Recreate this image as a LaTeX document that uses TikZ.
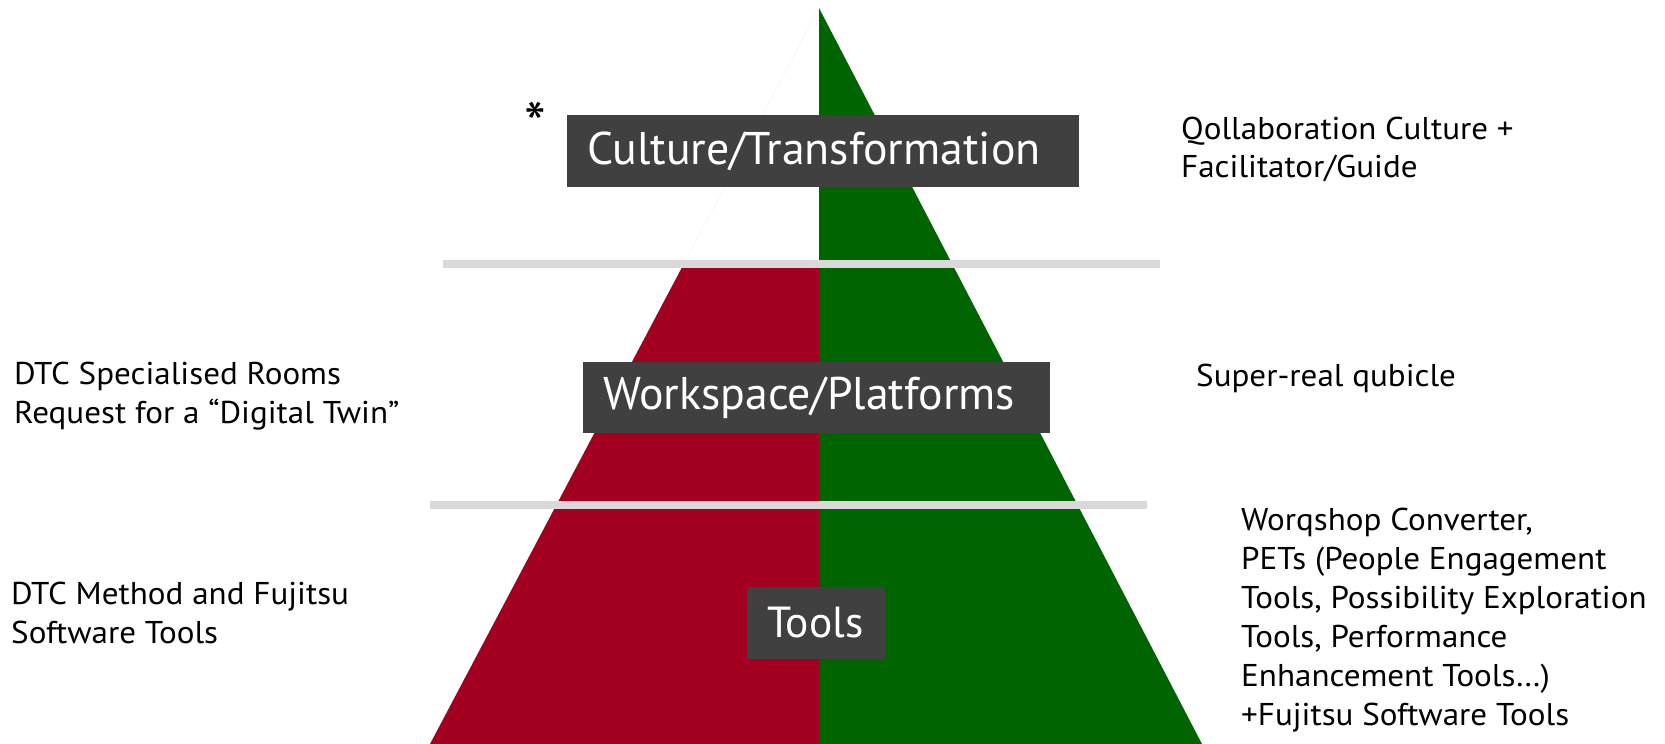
\documentclass[tikz,border=0pt]{standalone}
\usepackage{fontspec}
\setmainfont{PT Sans}
\newfontfamily\sidefont[FakeStretch=1.05]{PT Sans}
\definecolor{pyrred}{HTML}{A30021}
\definecolor{pyrgreen}{HTML}{006400}
\definecolor{boxgray}{HTML}{404040}
\definecolor{linegray}{HTML}{D9D9D9}
\begin{document}
\begin{tikzpicture}[x=1pt,y=-1pt,
  boxlbl/.style={fill=boxgray, text=white, font=\fontsize{45.8}{55}\selectfont, inner xsep=20pt, inner ysep=0pt, align=left, minimum height=72pt, anchor=west},
  side/.style={anchor=base west, inner sep=0pt, font=\sidefont\fontsize{31.5}{38}\selectfont, text=black},
  sepline/.style={fill=linegray, draw=none}]
\fill[white] (0,0) rectangle (1665,744);
\useasboundingbox (0,0) rectangle (1665,744);
% pyramid
\coordinate (apex) at (819,8);
\coordinate (bl) at (430,744);
\coordinate (br) at (1202,744);
\coordinate (bc) at (819,744);
\coordinate (redtop) at (819,264);
\coordinate (redleft) at (683.7,264);
\draw[black!5, line width=0.4pt] (apex) -- (redleft);
\fill[pyrgreen] (apex) -- (br) -- (bc) -- cycle;
\fill[pyrred] (redtop) -- (redleft) -- (bl) -- (bc) -- cycle;
% separator lines
\fill[sepline] (443,260) rectangle (1160,268);
\fill[sepline] (430,501) rectangle (1147,509);
% labels in boxes
\node[boxlbl, text width=472pt] (culture) at (567,151) {\raisebox{-3pt}{Culture/Transformation}};
\node[boxlbl, text width=427pt, minimum height=71pt] (workspace) at (583,397.5) {\raisebox{-3pt}{Workspace/Platforms}};
\node[boxlbl, text width=98pt, font=\fontsize{43.5}{52}\selectfont] (tools) at (747,623) {\raisebox{-3pt}{Tools}};
\node[anchor=center, inner sep=0pt, font=\fontsize{62}{66}\selectfont] (star) at (535,124) {*};
% right texts
\node[side] (q1) at (1181,139) {Qollaboration Culture +};
\node[side] (q2) at (1181,177) {Facilitator/Guide};
\node[side] (s1) at (1196,386) {Super-real qubicle};
\node[side] (w1) at (1241,530) {Worqshop Converter,};
\node[side] (w2) at (1241,569) {PETs (People Engagement};
\node[side] (w3) at (1241,608) {Tools, Possibility Exploration};
\node[side] (w4) at (1241,647) {Tools, Performance};
\node[side] (w5) at (1241,686) {Enhancement Tools\dots)};
\node[side] (w6) at (1241,725) {+Fujitsu Software Tools};
% left texts
\node[side] (d1) at (14,384) {DTC Specialised Rooms};
\node[side] (d2) at (14,423) {Request for a “Digital Twin”};
\node[side] (m1) at (11,604) {DTC Method and Fujitsu};
\node[side] (m2) at (11,643) {Software Tools};
\end{tikzpicture}
\end{document}
